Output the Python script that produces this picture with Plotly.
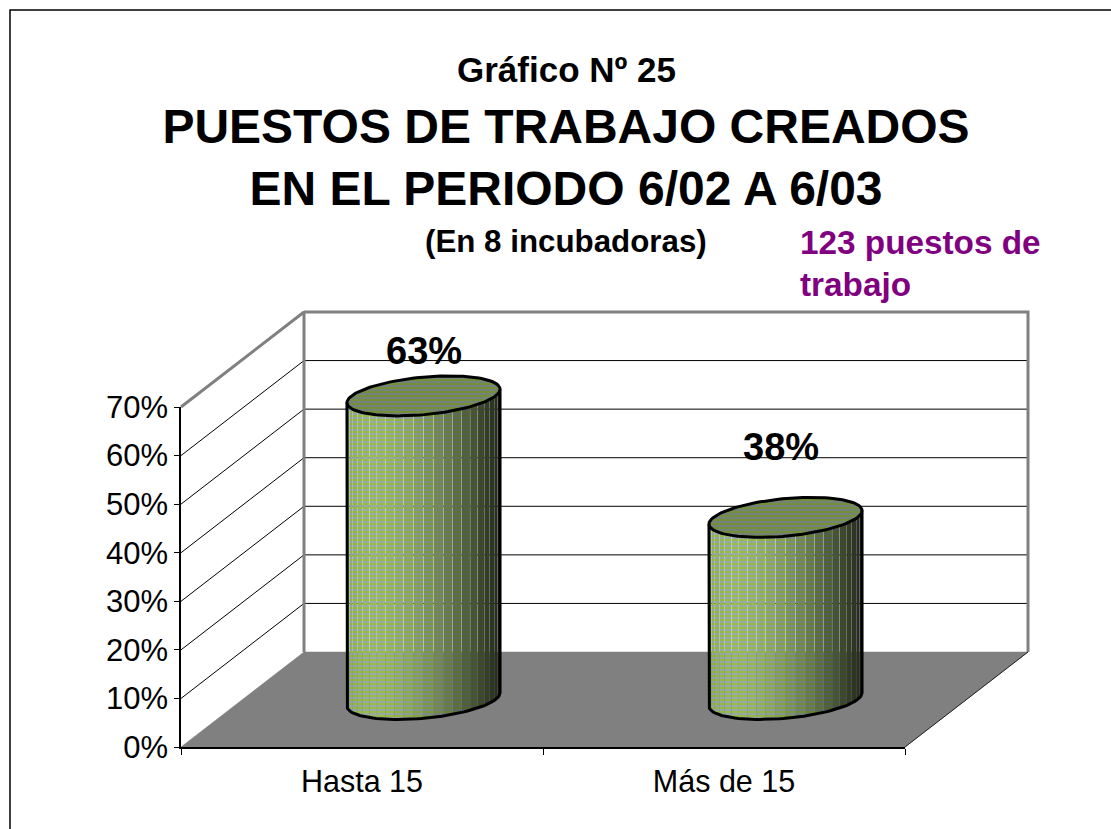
import numpy as np
import plotly.graph_objects as go

# ---- data ----
categories = ["Hasta 15", "Más de 15"]
shares = [62.5, 37.5]
share_labels = ["63%", "38%"]
y_ticks = [0, 10, 20, 30, 40, 50, 60, 70]
y_tick_labels = ["0%", "10%", "20%", "30%", "40%", "50%", "60%", "70%"]
title_lines = ["PUESTOS DE TRABAJO CREADOS", "EN EL PERIODO 6/02 A 6/03"]
chart_no = "Gráfico Nº 25"
subtitle = "(En 8 incubadoras)"
note_lines = ["123 puestos de", "trabajo"]

# ---- page layout ----
W, H = 1111, 829
L, R, B, T = 181, 905, 747, 407
FONT = "Liberation Sans"
px_x = (R - L) / 2      # px per category
px_y = (B - T) / 70     # px per percent
DX, DY = 123 / px_x, 95 / px_y   # oblique depth vector, data units
RX, RD = 0.199, 0.21    # cylinder radius across / along depth
N_STRIPS = 24
GREEN, BLUE = (153, 204, 0), (153, 153, 255)


def paper_x(p):
    return p / W


def paper_y(p):
    return 1 - p / H


def col(rgb, f):
    return "rgb(%d,%d,%d)" % tuple(round(c * f) for c in rgb)


def shade(u):
    a = np.clip((u - 0.15) / 0.85, 0, 1)
    return 0.22 + 0.78 * np.cos(a * np.pi / 2) if u > 0.15 else 0.94 + 0.4 * u


def pattern(f):
    return dict(shape="+", size=4, solidity=0.5, fillmode="overlay", fgopacity=1,
                fgcolor=col(BLUE, f), bgcolor=col(GREEN, f))


fig = go.Figure()


def line(xs, ys, color, width):
    fig.add_trace(go.Scatter(x=xs, y=ys, mode="lines",
                             line=dict(color=color, width=width), hoverinfo="skip"))


# gridlines on the left wall and the back wall
for v in y_ticks[1:-1]:
    line([0, DX, 2 + DX], [v, v + DY, v + DY], "#000000", 1)
# wall edges
line([0, DX, DX], [70, 70 + DY, DY], "#808080", 3)
line([DX, 2 + DX, 2 + DX], [70 + DY, 70 + DY, DY], "#808080", 3)
# floor
fig.add_trace(go.Scatter(x=[0, 2, 2 + DX, DX, 0], y=[0, 0, DY, DY, 0], mode="lines",
                         fill="toself", fillcolor="#808080",
                         line=dict(color="#808080", width=0.5), hoverinfo="skip"))
line([2, 2 + DX], [0, DY], "#202020", 1)

# cylinders
t0 = np.arctan2(RD * DX, RX)


def pt(cx, cy, t):
    return cx + RX * np.cos(t) + RD * DX * np.sin(t), cy + RD * DY * np.sin(t)


for i, v in enumerate(shares):
    cx, cy = i + 0.5 + 0.5 * DX, 0.5 * DY
    edges = np.linspace(0, np.pi, N_STRIPS + 1)
    for a, b in zip(edges[:-1], edges[1:]):
        t = t0 + np.pi + np.linspace(a + 0.002, b - 0.002, 8)
        xb, yb = pt(cx, cy, t)
        xs = np.r_[xb, xb[::-1], xb[0]]
        ys = np.r_[yb, (yb + v)[::-1], yb[0]]
        u = (1 - np.cos((a + b) / 2)) / 2
        f = shade(u)
        fig.add_trace(go.Scatter(
            x=xs, y=ys, mode="lines", fill="toself",
            line=dict(width=0), hoverinfo="skip", fillpattern=pattern(f)))
    # outline of the side
    t = t0 + np.pi + np.linspace(0, np.pi, 60)
    xb, yb = pt(cx, cy, t)
    line(np.r_[xb[0], xb, xb[-1]], np.r_[yb[0] + v, yb, yb[-1] + v], "#000000", 3)
    # top ellipse
    t = np.linspace(0, 2 * np.pi, 120)
    xt, yt = pt(cx, cy + v, t)
    fig.add_trace(go.Scatter(
        x=xt, y=yt, mode="lines", fill="toself",
        line=dict(color="#000000", width=3), hoverinfo="skip", fillpattern=pattern(0.76)))

# invisible trace that carries the visible axes
fig.add_trace(go.Scatter(x=[0.5, 1.5], y=shares, xaxis="x2", yaxis="y2", mode="markers",
                         marker=dict(opacity=0), hoverinfo="skip"))

# percentage labels
label_lift = [45, 70]
label_shift = [0.5, -5]
ann = []
for i, v in enumerate(shares):
    ann.append(dict(x=i + 0.5 + 0.5 * DX, y=v + 0.5 * DY, xref="x", yref="y",
                    text="<b>%s</b>" % share_labels[i], showarrow=False,
                    xshift=label_shift[i], yshift=label_lift[i],
                    font=dict(family=FONT, size=38, color="#000000")))


def text(s, cx, cy, size, color="#000000", anchor="center"):
    ann.append(dict(x=paper_x(cx), y=paper_y(cy), xref="paper", yref="paper",
                    text="<b>%s</b>" % s, showarrow=False, xanchor=anchor, yanchor="middle",
                    font=dict(family=FONT, size=size, color=color)))


text(chart_no, 566, 70, 35)
text(subtitle, 566, 241, 31.3)
text(note_lines[0], 798, 243, 33.3, "#800080", "left")
text(note_lines[1], 798, 284.5, 33.3, "#800080", "left")

fig.update_layout(
    width=W, height=H, autosize=False, showlegend=False, template="none",
    paper_bgcolor="#ffffff", plot_bgcolor="rgba(0,0,0,0)",
    margin=dict(l=0, r=0, t=0, b=0, pad=0),
    font=dict(family=FONT, color="#000000"),
    title=dict(text="<b>%s<br>%s</b>" % tuple(title_lines), x=566 / W, xref="container",
               xanchor="center", y=1 - 143 / H, yref="container", yanchor="top",
               font=dict(family=FONT, size=48, color="#000000")),
    annotations=ann,
    shapes=[dict(type="path", xref="paper", yref="paper", layer="above",
                 path="M %f,%f L %f,%f L %f,%f" % (paper_x(10), paper_y(H), paper_x(10), paper_y(10),
                                                    paper_x(W), paper_y(10)),
                 line=dict(color="#000000", width=1.5))],
    xaxis=dict(visible=False, automargin=False, domain=[0, 1],
               range=[-L / px_x, (W - L) / px_x], fixedrange=True),
    yaxis=dict(visible=False, automargin=False, domain=[0, 1],
               range=[-(H - B) / px_y, B / px_y], fixedrange=True),
    xaxis2=dict(domain=[L / W, R / W], anchor="y2", automargin=False, range=[0, 2], tickmode="array",
                tickvals=[0.5, 1.5], ticktext=categories, ticks="", ticklabelstandoff=7,
                showgrid=False, zeroline=False, showline=True, linecolor="#000000",
                linewidth=1.5, tickfont=dict(family=FONT, size=30.5, color="#000000"),
                minor=dict(tickmode="array", tickvals=[0, 1, 2], ticks="outside", ticklen=6,
                           tickcolor="#000000", tickwidth=1, showgrid=False)),
    yaxis2=dict(domain=[(H - B) / H, (H - T) / H], anchor="x2", automargin=False, range=[0, 70],
                tickmode="array", tickvals=y_ticks, ticktext=y_tick_labels,
                ticks="outside", ticklen=5, tickcolor="#000000", tickwidth=1,
                showgrid=False, zeroline=False, showline=True, linecolor="#000000",
                linewidth=1.5, tickfont=dict(family=FONT, size=31, color="#000000")),
)

fig.write_html("out.html", config=dict(displayModeBar=False),
               post_script="document.body.style.margin='0';document.documentElement.style.overflow='hidden';")
